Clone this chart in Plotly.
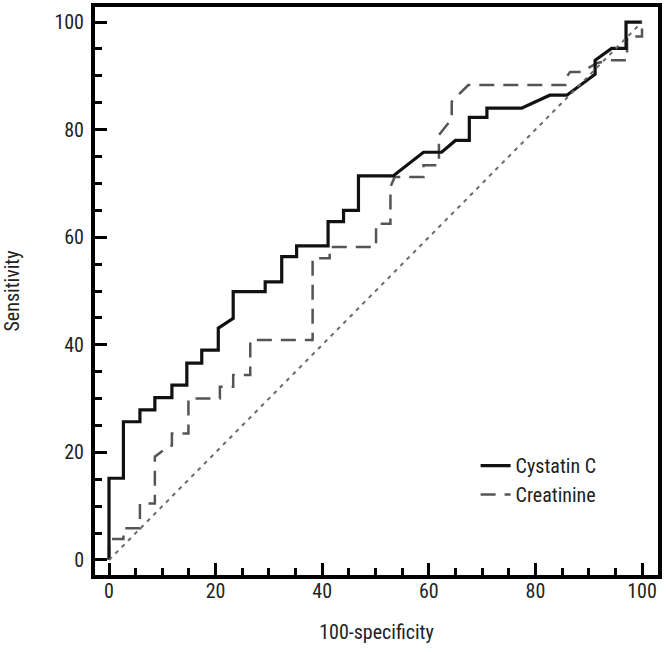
import plotly.graph_objects as go

# Cystatin C ROC curve (100-specificity, sensitivity)
cys_x = [0, 0, 2.7, 2.7, 5.8, 5.8, 8.6, 8.6, 11.8, 11.8, 14.6, 14.6, 17.4, 17.4,
         20.5, 20.5, 23.3, 23.3, 29.3, 29.3, 32.4, 32.4, 35.2, 35.2, 41.1, 41.1,
         44.0, 44.0, 46.8, 46.8, 53.3, 59.0, 62.4, 65.0, 67.6, 67.6, 70.9, 70.9,
         77.4, 82.7, 85.9, 91.2, 91.2, 94.3, 97.0, 97.0, 100]
cys_y = [0, 15.2, 15.2, 25.7, 25.7, 27.9, 27.9, 30.2, 30.2, 32.5, 32.5, 36.6, 36.6, 39.0,
         39.0, 43.1, 44.9, 49.9, 49.9, 51.7, 51.7, 56.4, 56.4, 58.4, 58.4, 62.9,
         62.9, 65.0, 65.0, 71.4, 71.4, 75.8, 75.8, 78.0, 78.0, 82.3, 82.3, 84.0,
         84.0, 86.4, 86.4, 90.3, 92.9, 95.1, 95.1, 100, 100]

# Creatinine ROC curve
cre_x = [0, 0, 2.7, 2.7, 5.8, 5.8, 8.6, 8.6, 10.2, 11.8, 11.8, 14.9, 14.9, 20.8, 20.8,
         23.3, 23.3, 26.5, 26.5, 38.2, 38.2, 41.4, 41.4, 50.1, 50.1, 52.8, 52.8,
         53.6, 59.0, 59.0, 61.9, 61.9, 64.3, 64.3, 67.4, 85.6, 85.6, 86.5, 88.6,
         91.6, 94.0, 97.2, 97.2, 100, 100]
cre_y = [0, 3.9, 3.9, 5.9, 5.9, 10.5, 10.5, 19.2, 20.4, 21.3, 23.5, 23.5, 30.0, 30.0, 32.2,
         32.2, 34.4, 34.4, 40.9, 40.9, 56.1, 56.1, 58.2, 58.2, 62.5, 62.5, 69.4,
         71.2, 71.2, 73.4, 73.4, 79.0, 82.0, 85.2, 88.3, 88.3, 89.5, 90.7, 90.7,
         92.4, 92.9, 92.9, 97.3, 97.3, 100]

ref_x = [0, 100]
ref_y = [0, 100]

x_title = "100-specificity"
y_title = "Sensitivity"
names = ["Cystatin C", "Creatinine"]

X_RANGE = [-2.63, 103.0]
Y_RANGE = [-2.79, 102.8]

FONT = "Liberation Sans Narrow, Roboto Condensed, DejaVu Sans Condensed, Arial Narrow, sans-serif"

fig = go.Figure()
# chance diagonal on the overlay axes (which carry the minor ticks)
fig.add_trace(go.Scatter(x=ref_x, y=ref_y, mode="lines", showlegend=False,
                         xaxis="x2", yaxis="y2",
                         line=dict(color="#6a6a6a", width=2, dash="4px,5px"),
                         hoverinfo="skip"))
fig.add_trace(go.Scatter(x=cre_x, y=cre_y, mode="lines", name=names[1],
                         line=dict(color="#555555", width=2.5, dash="15px,9px")))
fig.add_trace(go.Scatter(x=cys_x, y=cys_y, mode="lines", name=names[0],
                         line=dict(color="#111111", width=3.2)))


def major_axis(rng, title, standoff, lab_standoff):
    return dict(
        range=rng, automargin=False,
        showline=True, linewidth=4, linecolor="black", mirror=True,
        ticks="inside", ticklen=12, tickwidth=2.5, tickcolor="black",
        dtick=20, showgrid=False, zeroline=False,
        tickfont=dict(family=FONT, size=20, color="#222"),
        ticklabelstandoff=lab_standoff,
        title=dict(text=title, font=dict(family=FONT, size=20, color="#222"),
                   standoff=standoff),
    )


def minor_axis(rng, overlay, anchor, side):
    return dict(
        range=rng, overlaying=overlay, anchor=anchor, side=side, automargin=False,
        showline=False, ticks="inside", ticklen=7, tickwidth=2.5, tickcolor="black",
        dtick=5, showticklabels=False, showgrid=False, zeroline=False,
    )


fig.update_layout(
    width=667, height=652,
    margin=dict(l=95, r=9, t=7, b=77),
    paper_bgcolor="white", plot_bgcolor="white",
    font=dict(family=FONT, size=20, color="#222"),
    xaxis=major_axis(X_RANGE, x_title, 24, -5),
    yaxis=major_axis(Y_RANGE, y_title, 36, 3),
    xaxis2=minor_axis(X_RANGE, "x", "y2", "bottom"),
    yaxis2=minor_axis(Y_RANGE, "y", "x2", "left"),
    legend=dict(x=0.676, y=0.227, xanchor="left", yanchor="top",
                bgcolor="rgba(0,0,0,0)", font=dict(family=FONT, size=20, color="#222"),
                traceorder="reversed", tracegroupgap=0),
)

fig.write_html("out.html", config={"displayModeBar": False},
               post_script="document.body.style.margin='0';")
